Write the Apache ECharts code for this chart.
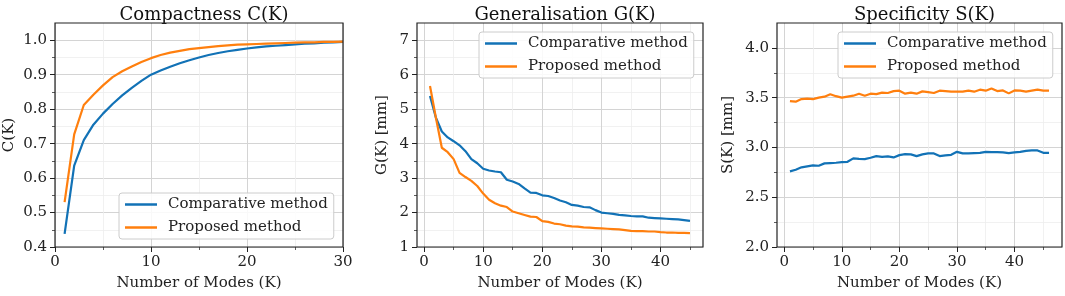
<!DOCTYPE html>
<html>
<head>
<meta charset="utf-8">
<script src="https://cdn.jsdelivr.net/npm/echarts@6/dist/echarts.min.js"></script>
<style>
  html, body { margin: 0; padding: 0; background: #fff; }
  #chart { width: 1065px; height: 296px; }
</style>
</head>
<body>
<div id="chart"></div>
<script>
// ---- data ----
const modesC = [1,2,3,4,5,6,7,8,9,10,11,12,13,14,15,16,17,18,19,20,21,22,23,24,25,26,27,28,29,30];
const compC = [0.438,0.636,0.71,0.755,0.787,0.815,0.84,0.862,0.882,0.9,0.912,0.923,0.933,0.942,0.95,0.957,0.963,0.968,0.972,0.976,0.979,0.982,0.984,0.986,0.988,0.99,0.991,0.993,0.994,0.995];
const propC = [0.53,0.727,0.812,0.842,0.869,0.893,0.91,0.924,0.937,0.948,0.957,0.964,0.969,0.974,0.977,0.98,0.983,0.985,0.987,0.988,0.989,0.99,0.991,0.992,0.993,0.994,0.994,0.995,0.995,0.996];

const modesG = [1,2,3,4,5,6,7,8,9,10,11,12,13,14,15,16,17,18,19,20,21,22,23,24,25,26,27,28,29,30,31,32,33,34,35,36,37,38,39,40,41,42,43,44,45];
const compG = [5.38,4.75,4.35,4.18,4.07,3.95,3.78,3.55,3.43,3.27,3.22,3.19,3.17,2.95,2.9,2.83,2.7,2.58,2.57,2.5,2.48,2.42,2.35,2.3,2.22,2.2,2.16,2.15,2.07,2.0,1.98,1.96,1.93,1.92,1.9,1.89,1.89,1.85,1.84,1.83,1.82,1.81,1.8,1.78,1.76];
const propG = [5.67,4.75,3.88,3.75,3.55,3.15,3.03,2.92,2.77,2.55,2.37,2.27,2.2,2.16,2.03,1.98,1.93,1.88,1.87,1.75,1.73,1.68,1.66,1.62,1.6,1.59,1.57,1.56,1.55,1.54,1.53,1.52,1.51,1.49,1.47,1.46,1.46,1.45,1.45,1.43,1.42,1.42,1.41,1.41,1.4];

const modesS = [1,2,3,4,5,6,7,8,9,10,11,12,13,14,15,16,17,18,19,20,21,22,23,24,25,26,27,28,29,30,31,32,33,34,35,36,37,38,39,40,41,42,43,44,45,46];
const compS = [2.76,2.776,2.8,2.81,2.82,2.816,2.84,2.843,2.846,2.853,2.856,2.89,2.886,2.883,2.896,2.913,2.906,2.91,2.9,2.923,2.933,2.93,2.913,2.93,2.94,2.94,2.913,2.92,2.926,2.956,2.94,2.94,2.943,2.946,2.956,2.953,2.953,2.95,2.943,2.95,2.956,2.966,2.97,2.97,2.946,2.946];
const propS = [3.466,3.46,3.486,3.49,3.486,3.5,3.51,3.535,3.515,3.5,3.51,3.52,3.54,3.52,3.54,3.535,3.55,3.547,3.566,3.57,3.54,3.55,3.54,3.563,3.556,3.547,3.57,3.566,3.56,3.56,3.56,3.57,3.56,3.58,3.57,3.593,3.566,3.573,3.543,3.573,3.57,3.56,3.57,3.58,3.57,3.57];

const titles = ['Compactness C(K)', 'Generalisation G(K)', 'Specificity S(K)'];
const yNames = ['C(K)', 'G(K) [mm]', 'S(K) [mm]'];
const xName = 'Number of Modes (K)';
const seriesNames = ['Comparative method', 'Proposed method'];

const xMajor = [[0,10,20,30],[0,10,20,30,40],[0,10,20,30,40]];
const xMinor = [[5,15,25],[5,15,25,35,45],[5,15,25,35,45]];
const yMajor = [[0.4,0.5,0.6,0.7,0.8,0.9,1.0],[1,2,3,4,5,6,7],[2.0,2.5,3.0,3.5,4.0]];
const yMinor = [[0.45,0.55,0.65,0.75,0.85,0.95],[1.5,2.5,3.5,4.5,5.5,6.5],[2.25,2.75,3.25,3.75]];

// ---- layout ----
const FONT = 'DejaVu Serif';
const BLUE = '#1272b6';
const ORANGE = '#ff7f0e';
const grids = [
  { left: 55, top: 23, width: 288, height: 226 },
  { left: 417, top: 23, width: 286, height: 226 },
  { left: 777, top: 23, width: 285, height: 226 }
];
const xRange = [[0, 30], [-1.2, 47.2], [-1.25, 48.25]];
const yRange = [[0.4, 1.05], [1, 7.5], [2, 4.25]];
const yDigits = [1, 0, 1];
const yGap = [38, 27, 41];
const legendPos = [{ left: 119, top: 193 }, { left: 479, top: 32 }, { left: 838, top: 32 }];

const xAxes = [], yAxes = [], series = [], titleOpts = [], legends = [];

function minorAxis(g, r, ticks, pos) {
  return {
    type: 'value', gridIndex: g, min: r[0], max: r[1], position: pos,
    axisLine: { show: false, onZero: false },
    axisTick: { show: true, length: 3, customValues: ticks, lineStyle: { color: '#333', width: 0.8 } },
    axisLabel: { show: false },
    splitLine: { show: true, lineStyle: { color: '#eeeeee', width: 0.8 } }
  };
}

function majorAxis(g, r, ticks, pos, fmt, name, gap, rot) {
  return {
    type: 'value', gridIndex: g, min: r[0], max: r[1], position: pos,
    axisLine: { show: false, onZero: false },
    axisTick: { show: true, length: 5, customValues: ticks, lineStyle: { color: '#222', width: 1 } },
    axisLabel: { customValues: ticks, margin: 8, fontFamily: FONT, fontSize: 15, color: '#222', formatter: fmt },
    splitLine: { show: true, lineStyle: { color: '#d4d4d4', width: 1 } },
    name: name, nameLocation: 'middle', nameGap: gap, nameRotate: rot,
    nameTextStyle: { fontFamily: FONT, fontSize: 15, color: '#222' }
  };
}

const xData = [modesC, modesG, modesS];
const yData = [[compC, propC], [compG, propG], [compS, propS]];

for (let g = 0; g < 3; g++) {
  // minor axes first so their grid lines sit under the major ones
  xAxes.push(minorAxis(g, xRange[g], xMinor[g], 'bottom'));
  yAxes.push(minorAxis(g, yRange[g], yMinor[g], 'left'));
  const xi = xAxes.length, yi = yAxes.length;
  const d = yDigits[g];
  xAxes.push(majorAxis(g, xRange[g], xMajor[g], 'bottom', v => String(Math.round(v)), xName, 29, 0));
  yAxes.push(majorAxis(g, yRange[g], yMajor[g], 'left', v => Number(v).toFixed(d), yNames[g], yGap[g], 90));

  [BLUE, ORANGE].forEach((c, s) => {
    series.push({
      type: 'line', name: seriesNames[s], xAxisIndex: xi, yAxisIndex: yi,
      data: xData[g].map((k, i) => [k, yData[g][s][i]]),
      symbol: 'none', color: c, lineStyle: { color: c, width: 2.2 }, z: 3
    });
  });

  titleOpts.push({
    text: titles[g], left: grids[g].left + grids[g].width / 2, top: 1, textAlign: 'center',
    textStyle: { fontFamily: FONT, fontSize: 18, fontWeight: 'normal', color: '#111' }
  });

  legends.push({
    data: seriesNames, orient: 'vertical', left: legendPos[g].left, top: legendPos[g].top,
    icon: 'rect', itemWidth: 32, itemHeight: 2.5, itemGap: 8, padding: [4, 6, 4, 6],
    backgroundColor: 'rgba(255,255,255,0.85)', borderColor: '#cccccc', borderWidth: 1, borderRadius: 3,
    textStyle: { fontFamily: FONT, fontSize: 15, color: '#222', padding: [0, 0, 0, 6] },
    selectedMode: false
  });
}

const chart = echarts.init(document.getElementById('chart'), null, { renderer: 'canvas' });
chart.setOption({
  animation: false,
  backgroundColor: '#ffffff',
  title: titleOpts,
  legend: legends,
  grid: grids.map(r => Object.assign({ show: true, borderColor: '#222', borderWidth: 1.2, backgroundColor: 'transparent', z: 10 }, r)),
  xAxis: xAxes,
  yAxis: yAxes,
  series: series
});
</script>
</body>
</html>
